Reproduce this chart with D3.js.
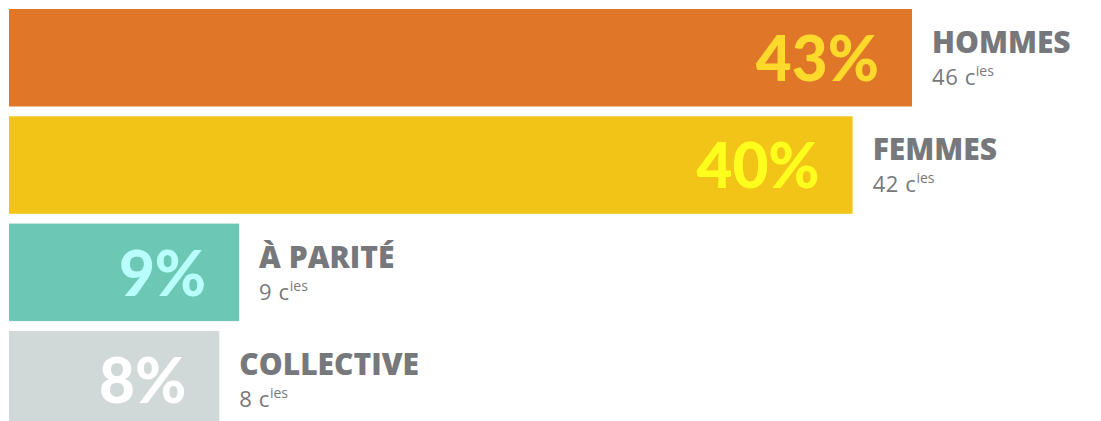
<!DOCTYPE html>
<html>
<head>
<meta charset="utf-8">
<script src="https://cdn.jsdelivr.net/npm/d3@7"></script>
<style>
  body { margin: 0; background: #fff; }
  svg { display: block; }
</style>
</head>
<body>
<script>
const categories = ['HOMMES', 'FEMMES', 'À PARITÉ', 'COLLECTIVE'];
const percents = [43, 40, 9, 8];
const companies = [46, 42, 9, 8];
const barColors = ['#E07628', '#F2C417', '#6CC7B5', '#D0D9D7'];
const pctColors = ['#FDD92C', '#FFFF1E', '#B8FFFC', '#FFFFFF'];

const width = 1101, height = 421;

const svg = d3.select('body').append('svg')
  .attr('width', width)
  .attr('height', height);

const data = categories.map((c, i) => ({
  cat: c, pct: percents[i], n: companies[i], bar: barColors[i], txt: pctColors[i]
}));

// width grows with value, with some base room for the number
const x = d3.scaleLinear().domain([0, 43]).range([61, 912]);
const y = d3.scaleBand().domain(categories).range([9, 428.4]).paddingInner(0.0913);

const g = svg.selectAll('g.row')
  .data(data).enter()
  .append('g')
  .attr('class', 'row')
  .attr('transform', d => `translate(0,${y(d.cat)})`);

g.append('rect')
  .attr('x', 9)
  .attr('y', 0)
  .attr('width', d => x(d.pct) - 9)
  .attr('height', y.bandwidth())
  .attr('fill', d => d.bar);

g.append('text')
  .attr('x', d => x(d.pct) - 33)
  .attr('y', 72)
  .attr('text-anchor', 'end')
  .style('font-family', 'Lato, sans-serif')
  .style('font-weight', 900)
  .style('font-size', '62px')
  .attr('fill', d => d.txt)
  .text(d => d.pct + '%');

g.append('text')
  .attr('x', d => x(d.pct) + 20)
  .attr('y', 44)
  .style('font-family', '"Open Sans", sans-serif')
  .style('font-weight', 800)
  .style('font-size', '30px')
  .attr('fill', '#77787B')
  .text(d => d.cat);

const sub = g.append('text')
  .attr('class', 'sub')
  .attr('x', d => x(d.pct) + 20)
  .attr('y', 76)
  .style('font-family', '"Open Sans", sans-serif')
  .style('font-size', '22px')
  .style('letter-spacing', '0.6px')
  .attr('fill', '#77787B')
  .text(d => d.n + ' c');

// superscript "ies" placed right after the "c"
g.append('text')
  .attr('x', function(d) {
    const t = d3.select(this.parentNode).select('text.sub').node();
    return x(d.pct) + 20 + t.getComputedTextLength();
  })
  .attr('y', 67)
  .style('font-family', '"Open Sans", sans-serif')
  .style('font-size', '14px')
  .attr('fill', '#77787B')
  .text('ies');
</script>
</body>
</html>
